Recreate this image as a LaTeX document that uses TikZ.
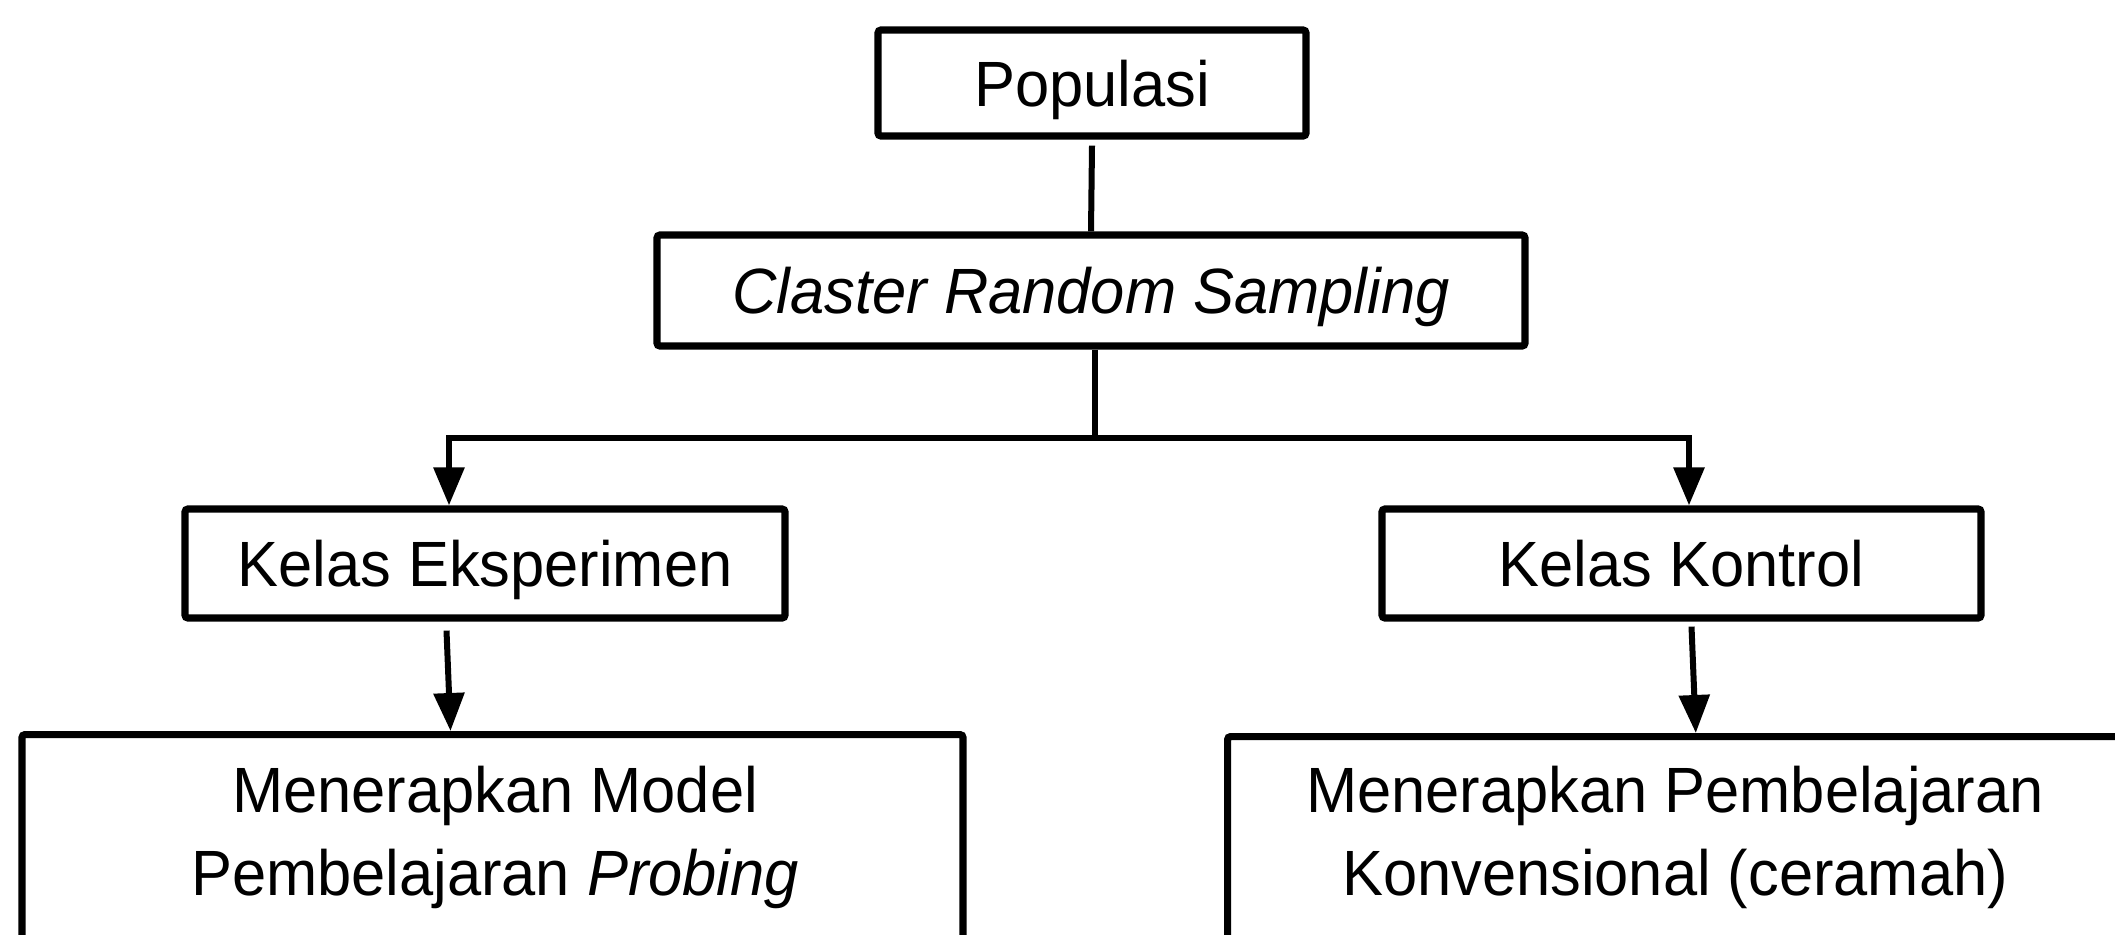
\documentclass[tikz,border=0pt]{standalone}
\usepackage{fontspec}
\setmainfont{Liberation Sans}[FakeStretch=0.96]
\usetikzlibrary{arrows.meta}
\begin{document}
\begin{tikzpicture}[x=0.5pt,y=-0.5pt,
  txt/.style={font=\fontsize{32}{38}\selectfont},
  box/.style={draw, line width=3.6pt, rounded corners=1.5pt, rectangle, inner sep=0pt, text height=23pt, text depth=0pt, txt},
  conn/.style={line width=3pt},
  arr/.style={conn, -{Triangle[length=19pt,width=15pt]}},
  lbl/.style={inner sep=0pt, anchor=base, txt}]
\useasboundingbox (0,0) rectangle (2115,934);
\node[box, minimum width=214pt, minimum height=53pt] (pop) at (1092,83) {Populasi};
\node[box, minimum width=434pt, minimum height=55.5pt] (cs) at (1091,290.5) {\textit{Claster Random Sampling}};
\node[box, minimum width=300pt, minimum height=54.5pt] (ke) at (485,563.5) {Kelas Eksperimen};
\node[box, minimum width=299.5pt, minimum height=54.5pt] (kk) at (1681.5,563.5) {Kelas Kontrol};
\node[box, anchor=north, minimum width=470.5pt, minimum height=184.5pt] (ml) at (492.5,731) {};
\node[box, anchor=north west, minimum width=500pt, minimum height=184.5pt] (kr) at (1224,733) {};
\node[lbl] (ml1) at (495,812) {Menerapkan Model};
\node[lbl] (ml2) at (495,895) {Pembelajaran \textit{Probing}};
\node[lbl] (kr1) at (1675,812) {Menerapkan Pembelajaran};
\node[lbl] (kr2) at (1675,895) {Konvensional (ceramah)};
\coordinate (j) at (1095,438);
\coordinate (jl) at (449,438);
\coordinate (jr) at (1689,438);
\draw[conn] ([yshift=-3pt]pop.south) -- (cs.north);
\draw[conn] (j |- cs.south) -- (j);
\draw[arr] (j) -- (jl) -- (jl |- ke.north);
\draw[arr] (j) -- (jr) -- (jr |- kk.north);
\draw[arr] ([xshift=-19.25pt,yshift=-4.5pt]ke.south) -- ([xshift=-21pt]ml.north);
\draw[arr] ([xshift=5pt,yshift=-2.5pt]kk.south) -- ([xshift=235.9pt]kr.north west);
\end{tikzpicture}
\end{document}
